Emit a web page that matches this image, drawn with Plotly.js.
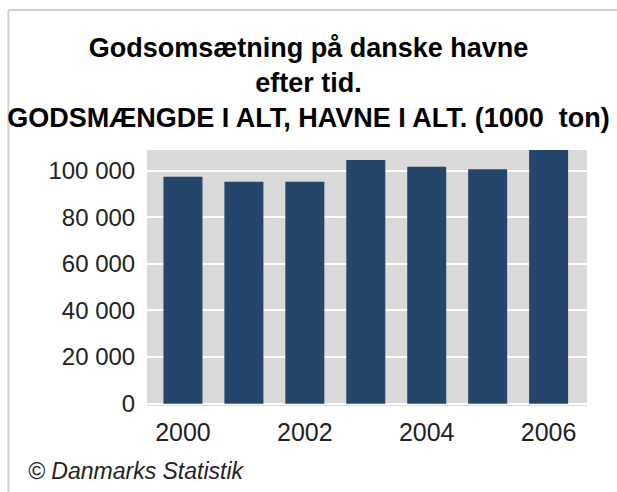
<!DOCTYPE html>
<html>
<head>
<meta charset="utf-8">
<script src="https://cdn.plot.ly/plotly-3.0.1.min.js"></script>
<style>html,body{margin:0;padding:0;background:#fff;}#chart{width:617px;height:492px;}</style>
</head>
<body>
<div id="chart"></div>
<script>
const years = [2000, 2001, 2002, 2003, 2004, 2005, 2006];
const tonnage = [97400, 95300, 95300, 104600, 101700, 100600, 108900];
const xTickVals = [2000, 2002, 2004, 2006];
const xTickText = ['2000', '2002', '2004', '2006'];
const yTickVals = [0, 20000, 40000, 60000, 80000, 100000];

const titleLines = ['Godsomsætning på danske havne', 'efter tid.', 'GODSMÆNGDE I ALT, HAVNE I ALT. (1000  ton)'];
const sourceText = '© Danmarks Statistik';

const trace = {
  type: 'bar',
  x: years,
  y: tonnage,
  marker: {color: '#24466b', line: {width: 0}},
  width: 0.64,
  hoverinfo: 'x+y'
};

const layout = {
  width: 617,
  height: 492,
  margin: {l: 147, r: 30, t: 150, b: 86, pad: 0},
  paper_bgcolor: '#ffffff',
  plot_bgcolor: '#d9d9d9',
  separators: ', ',
  showlegend: false,
  font: {family: 'Liberation Sans, Arial, sans-serif', color: '#1a1a1a'},
  title: {
    text: titleLines.map(t => '<b>' + t + '</b>').join('<br>'),
    x: 0.5, xanchor: 'center', xref: 'container',
    y: 1 - 57/492, yanchor: 'top', yref: 'container',
    font: {family: 'Liberation Sans, Arial, sans-serif', size: 27, color: '#000'}
  },
  xaxis: {
    type: 'linear',
    range: [1999.41, 2006.63],
    tickvals: xTickVals,
    ticktext: xTickText,
    showgrid: false,
    zeroline: false,
    showline: false,
    ticks: 'outside', ticklen: 4, tickcolor: 'rgba(0,0,0,0)',
    tickfont: {size: 25, color: '#222'}
  },
  yaxis: {
    range: [-1000, 108900],
    tickvals: yTickVals,
    tickformat: ',d',
    showgrid: true,
    gridcolor: '#ffffff',
    gridwidth: 2,
    zeroline: false,
    showline: false,
    ticks: 'outside', ticklen: 6, tickcolor: 'rgba(0,0,0,0)',
    tickfont: {size: 24, color: '#222'}
  },
  shapes: [
    {type: 'line', xref: 'paper', yref: 'paper', x0: -0.315, x1: -0.315, y0: 1.547, y1: -0.34, line: {color: '#d0d0d0', width: 2}},
    {type: 'line', xref: 'paper', yref: 'paper', x0: -0.315, x1: 1.1, y0: 1.547, y1: 1.547, line: {color: '#d0d0d0', width: 2}}
  ],
  annotations: [
    {text: '<i>' + sourceText + '</i>', xref: 'paper', yref: 'paper', x: (26-147)/440, y: (406-471)/256,
     xanchor: 'left', yanchor: 'middle', showarrow: false,
     font: {family: 'Liberation Sans, Arial, sans-serif', size: 23, color: '#222'}}
  ]
};

Plotly.newPlot('chart', [trace], layout, {displayModeBar: false, staticPlot: true});
</script>
</body>
</html>
